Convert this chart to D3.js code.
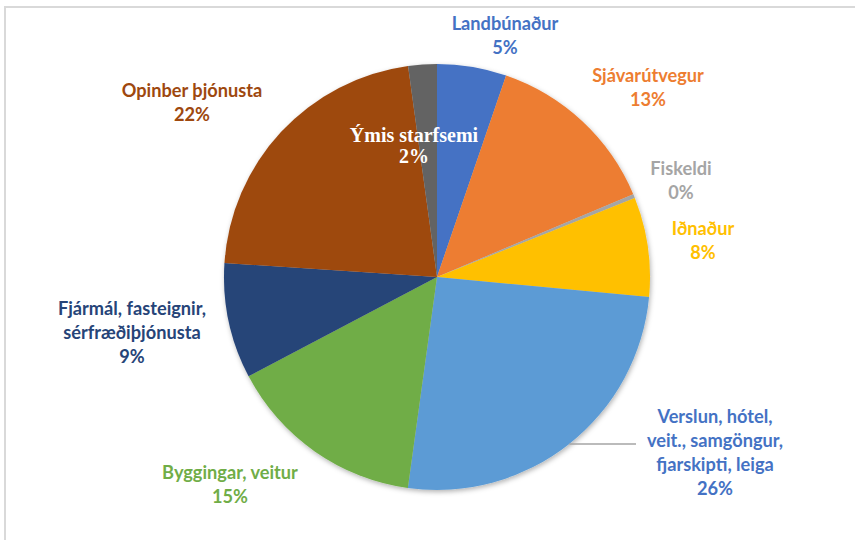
<!DOCTYPE html>
<html><head><meta charset="utf-8">
<script src="https://cdn.jsdelivr.net/npm/d3@7"></script>
<style>body{margin:0;background:#fff;overflow:hidden}</style>
</head><body><svg id="c" width="855" height="540"></svg>
<script>
// ---- data ----
const categories = [
  "Landbúnaður",
  "Sjávarútvegur",
  "Fiskeldi",
  "Iðnaður",
  "Verslun, hótel,\nveit., samgöngur,\nfjarskipti, leiga",
  "Byggingar, veitur",
  "Fjármál, fasteignir,\nsérfræðiþjónusta",
  "Opinber þjónusta",
  "Ýmis starfsemi"
];
const values = [5.26, 13.4, 0.3, 7.55, 25.7, 15.1, 8.77, 21.8, 2.17];
const percentLabels = ["5%", "13%", "0%", "8%", "26%", "15%", "9%", "22%", "2%"];

// ---- styles / layout ----
const colors = ["#4472C4","#ED7D31","#A5A5A5","#FFC000","#5B9BD5","#70AD47","#264478","#9E480E","#636363"];
const labelColors = ["#4472C4","#ED7D31","#A5A5A5","#FFC000","#4472C4","#70AD47","#264478","#9E480E","#FFFFFF"];
// label anchor (center x, first baseline y) relative to pie center
const labelOffsets = [[68,-247],[211,-195],[244,-102],[266,-42],[278,146],[-207,202],[-305,38],[-245,-180],[-23,-135]];
const W = 855, H = 540, cx = 437, cy = 277, R = 213, lineH = 24;

const svg = d3.select("#c");

// frame
svg.append("line").attr("x1",4).attr("x2",W).attr("y1",7).attr("y2",7).attr("stroke","#D9D9D9").attr("stroke-width",2);
svg.append("line").attr("x1",5).attr("x2",5).attr("y1",7).attr("y2",H).attr("stroke","#D9D9D9").attr("stroke-width",2);

const defs = svg.append("defs");
const f = defs.append("filter").attr("id","sh").attr("x","-10%").attr("y","-10%").attr("width","120%").attr("height","120%");
f.append("feDropShadow").attr("dx",1).attr("dy",2).attr("stdDeviation",2.5).attr("flood-color","#000").attr("flood-opacity",0.3);

const data = categories.map((c,i)=>({cat:c, value:values[i], i}));
const pie = d3.pie().value(d=>d.value).sort(null);
const arcs = pie(data);
const arc = d3.arc().innerRadius(0).outerRadius(R);

const g = svg.append("g").attr("transform",`translate(${cx},${cy})`);
g.append("g").attr("filter","url(#sh)")
  .selectAll("path").data(arcs).join("path")
  .attr("d", arc)
  .attr("fill", d=>colors[d.data.i]);

// leader line for Verslun
const vi = 4;
const va = (arcs[vi].startAngle + arcs[vi].endAngle)/2;
const p0 = [R*Math.sin(va), -R*Math.cos(va)];
g.append("polyline")
  .attr("points", [p0, [199, p0[1]]].map(p=>p.join(",")).join(" "))
  .attr("fill","none").attr("stroke","#A5A5A5").attr("stroke-width",1.5);

// labels
arcs.forEach(d=>{
  const i = d.data.i;
  const lines = d.data.cat.split("\n").concat([percentLabels[i]]);
  const serif = i === 8;
  const t = g.append("text")
    .attr("text-anchor","middle")
    .attr("fill", labelColors[i])
    .attr("font-family", serif ? "'Liberation Serif','Times New Roman',serif" : "Lato, 'Open Sans', sans-serif")
    .attr("font-weight","bold")
    .attr("font-size", serif ? 20 : 18.2);
  lines.forEach((l,k)=>{
    t.append("tspan").attr("x", labelOffsets[i][0]).attr("y", labelOffsets[i][1] + k*(serif?21:lineH)).text(l);
  });
});
</script>
</body></html>
